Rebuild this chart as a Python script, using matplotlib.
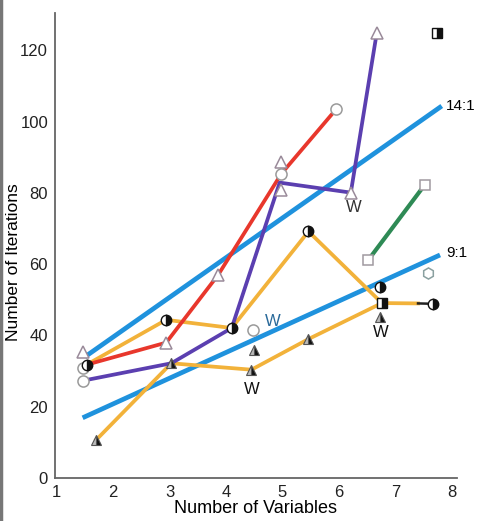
import matplotlib
matplotlib.use('Agg')
import matplotlib.pyplot as plt
from matplotlib.lines import Line2D

plt.rcParams['font.family'] = ['Liberation Sans', 'DejaVu Sans']

# fitted lines (ratio lines)
ratio_14_x = [1.5, 7.82]
ratio_14_y = [34, 104.4]
ratio_9_x = [1.46, 7.79]
ratio_9_y = [16.9, 62.6]

# coloured series
red_x = [1.53, 2.94, 3.86, 4.98, 5.95]
red_y = [31.8, 38, 57, 85.4, 103.5]

purple_x = [1.46, 3.03, 4.10, 4.95, 6.21, 6.67]
purple_y = [27.3, 32.2, 42.1, 82.9, 80.1, 125]

orange_a_x = [1.53, 2.94, 4.10, 5.46, 6.76, 7.40]
orange_a_y = [31.8, 44.4, 42.1, 69.2, 49.1, 49.0]
black_tail_x = [7.40, 7.67]
black_tail_y = [49.0, 48.9]

orange_b_x = [1.70, 3.03, 4.45, 5.46, 6.76]
orange_b_y = [10.7, 32.2, 30.4, 39.0, 49.1]

green_x = [6.52, 7.52]
green_y = [61.2, 82.3]

# point symbols
open_tri_x = [1.47, 2.94, 3.86, 4.98, 4.98, 6.21, 6.67]
open_tri_y = [35.5, 38, 57, 88.8, 80.9, 80.1, 125]
open_circ_x = [1.46, 1.46, 4.98, 4.48, 5.95]
open_circ_y = [31.0, 27.3, 85.4, 41.6, 103.5]
half_circ_x = [1.53, 2.94, 4.10, 5.46, 6.73, 7.67]
half_circ_y = [31.8, 44.4, 42.1, 69.2, 53.7, 48.9]
half_tri_x = [1.70, 3.03, 4.50, 4.45, 5.46, 6.73]
half_tri_y = [10.7, 32.2, 36.0, 30.4, 39.0, 45.3]
half_sq_x = [6.76, 7.73]
half_sq_y = [49.1, 124.8]
open_sq_x = green_x
open_sq_y = green_y
hex_x = [7.57]
hex_y = [57.5]

w_x = [4.83, 6.26, 4.45, 6.74]
w_y = [43.9, 75.8, 24.8, 40.8]
w_col = ['#2a6a9a', '#333333', '#111111', '#111111']

fig = plt.figure(figsize=(4.78, 5.21), dpi=100)
ax = fig.add_axes([0.115, 0.0825, 0.841, 0.8925])

# grey edge of the scanned page
fig.add_artist(Line2D([0.003, 0.003], [0, 1], transform=fig.transFigure, color='#777777', lw=2.5))

blue = '#1f92dd'
ax.plot(ratio_14_x, ratio_14_y, color=blue, lw=3.4, solid_capstyle='butt', zorder=2)
ax.plot(ratio_9_x, ratio_9_y, color=blue, lw=3.4, solid_capstyle='butt', zorder=2)
ax.plot(orange_a_x, orange_a_y, color='#f2b23a', lw=2.7, zorder=3)
ax.plot(black_tail_x, black_tail_y, color='#222222', lw=1.8, zorder=3)
ax.plot(orange_b_x, orange_b_y, color='#f2b23a', lw=2.7, zorder=3)
ax.plot(red_x, red_y, color='#e8372c', lw=2.7, zorder=4)
ax.plot(purple_x, purple_y, color='#5b3fb0', lw=2.7, zorder=4)
ax.plot(green_x, green_y, color='#2e8a55', lw=3.0, zorder=3)

ax.plot(open_tri_x, open_tri_y, ls='none', marker='^', ms=8, mfc='white', mec='#9a8a9a', mew=1.1, zorder=5)
ax.plot(open_circ_x, open_circ_y, ls='none', marker='o', ms=8, mfc='white', mec='#9a9a9a', mew=1.1, zorder=5)
ax.plot(half_circ_x, half_circ_y, ls='none', marker='o', ms=7.5, fillstyle='right', mfc='#111111',
        mfcalt='white', mec='#111111', mew=1.0, zorder=6)
ax.plot(half_tri_x, half_tri_y, ls='none', marker='^', ms=7.5, fillstyle='right', mfc='#111111',
        mfcalt='#bbbbbb', mec='#555555', mew=0.8, zorder=6)
ax.plot(half_sq_x, half_sq_y, ls='none', marker='s', ms=6.5, fillstyle='right', mfc='#111111',
        mfcalt='white', mec='#111111', mew=1.0, zorder=6)
ax.plot(open_sq_x, open_sq_y, ls='none', marker='s', ms=7, mfc='white', mec='#a09aa0', mew=1.1, zorder=6)
ax.plot(hex_x, hex_y, ls='none', marker='h', ms=8, mfc='white', mec='#8aa0a0', mew=1.1, zorder=6)

for x, y, c in zip(w_x, w_y, w_col):
    ax.text(x, y, 'W', color=c, fontsize=12, ha='center', va='center', zorder=7)

ax.text(7.90, 104.4, '14:1', fontsize=11, ha='left', va='center')
ax.text(7.90, 63.2, '9:1', fontsize=11, ha='left', va='center')

ax.set_xlim(0.97, 8.09)
ax.set_ylim(0, 130.5)
ax.set_xticks(range(1, 9))
ax.set_yticks(range(0, 121, 20))
ax.tick_params(length=0, labelsize=12, colors='#222222', pad=5)
for s in ['top', 'right']:
    ax.spines[s].set_visible(False)
for s in ['left', 'bottom']:
    ax.spines[s].set_color('#666666')
    ax.spines[s].set_linewidth(1.3)

ax.set_xlabel('Number of Variables', fontsize=13, labelpad=0)
ax.set_ylabel('Number of Iterations', fontsize=12.5)
ax.yaxis.set_label_coords(-0.085, 0.465)

fig.savefig('out.png', dpi=100)
